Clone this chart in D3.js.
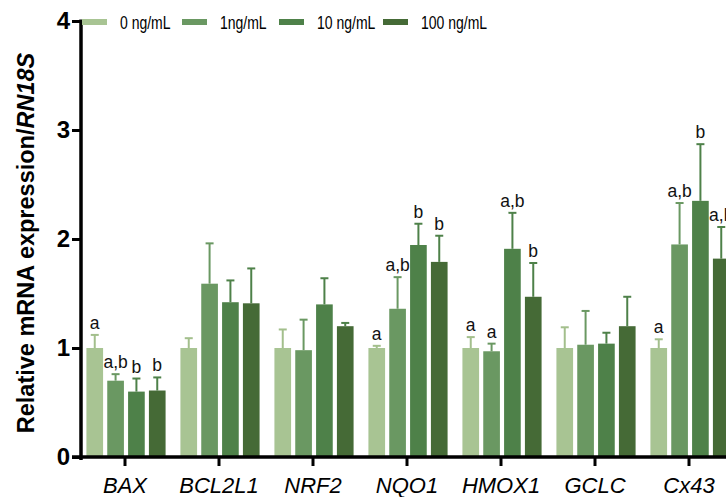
<!DOCTYPE html>
<html>
<head>
<meta charset="utf-8">
<script src="https://cdn.jsdelivr.net/npm/d3@7"></script>
<style>
  body { margin: 0; background: #fff; }
  svg { display: block; font-family: "Liberation Sans", Arial, sans-serif; }
</style>
</head>
<body>
<div id="chart"></div>
<script>
'use strict';

var genes  = ["BAX", "BCL2L1", "NRF2", "NQO1", "HMOX1", "GCLC", "Cx43"];
var doses  = ["0 ng/mL", "1ng/mL", "10 ng/mL", "100 ng/mL"];
var colors = ["#a8c493", "#6a9862", "#4e8149", "#456a36"];
var errColors = ["#a3bf8c", "#6a9862", "#4e8149", "#4e8149"];

// mean per dose, one value per gene
var dose0   = [1.00, 1.00, 1.00, 1.00, 1.00, 1.00, 1.00];
var dose1   = [0.70, 1.59, 0.98, 1.36, 0.97, 1.03, 1.95];
var dose10  = [0.60, 1.42, 1.40, 1.945, 1.91, 1.04, 2.35];
var dose100 = [0.61, 1.41, 1.20, 1.79, 1.47, 1.20, 1.82];

// top of error bar (mean + SD)
var err0   = [1.12, 1.09, 1.17, 1.02, 1.10, 1.19, 1.08];
var err1   = [0.76, 1.96, 1.26, 1.65, 1.04, 1.34, 2.33];
var err10  = [0.72, 1.62, 1.64, 2.14, 2.24, 1.14, 2.87];
var err100 = [0.73, 1.73, 1.23, 2.03, 1.78, 1.47, 2.11];

// significance letters
var sig0   = ["a", "", "", "a", "a", "", "a"];
var sig1   = ["a,b", "", "", "a,b", "a", "", "a,b"];
var sig10  = ["b", "", "", "b", "a,b", "", "b"];
var sig100 = ["b", "", "", "b", "b", "", "a,b"];

var yTicks = [0, 1, 2, 3, 4];

var means = [dose0, dose1, dose10, dose100],
    errs  = [err0, err1, err10, err100],
    sigs  = [sig0, sig1, sig10, sig100];

var W = 726, H = 497;
var svg = d3.select("#chart").append("svg").attr("width", W).attr("height", H);

var x0 = d3.scaleBand().domain(genes).range([78, 736]).paddingInner(0).paddingOuter(0);
var x1 = d3.scaleBand().domain(d3.range(doses.length)).range([8, 88]).paddingInner(0.2).paddingOuter(0.02);
var y  = d3.scaleLinear().domain([0, 4]).range([457, 21]);

// bars, error bars, letters
var data = [];
genes.forEach(function(g, gi) {
    doses.forEach(function(d, di) {
        data.push({gene: g, dose: di, v: means[di][gi], e: errs[di][gi], s: sigs[di][gi]});
    });
});

var grp = svg.append("g");
var marks = grp.selectAll("g.bar").data(data).enter().append("g")
    .attr("transform", function(d){ return "translate(" + (x0(d.gene) + x1(d.dose)) + ",0)"; });

var bw = x1.bandwidth();

marks.append("line")
    .attr("x1", bw / 2).attr("x2", bw / 2)
    .attr("y1", function(d){ return y(d.v); })
    .attr("y2", function(d){ return y(d.e); })
    .style("stroke", function(d){ return errColors[d.dose]; })
    .style("stroke-width", 2);
marks.append("line")
    .attr("x1", bw / 2 - 4).attr("x2", bw / 2 + 4)
    .attr("y1", function(d){ return y(d.e); })
    .attr("y2", function(d){ return y(d.e); })
    .style("stroke", function(d){ return errColors[d.dose]; })
    .style("stroke-width", 2);

marks.append("rect")
    .attr("x", 0).attr("width", bw)
    .attr("y", function(d){ return y(d.v); })
    .attr("height", function(d){ return y(0) - y(d.v); })
    .style("fill", function(d){ return colors[d.dose]; });

marks.filter(function(d){ return d.s; }).append("text")
    .attr("x", bw / 2)
    .attr("y", function(d){ return y(d.e) - 6; })
    .attr("text-anchor", "middle")
    .style("font-size", "17.5px")
    .style("fill", "#111")
    .text(function(d){ return d.s; });

// y axis
var yAxis = d3.axisLeft(y).tickValues(yTicks).tickFormat(d3.format("d")).tickSize(9).tickPadding(2);
var ya = svg.append("g").attr("transform", "translate(81,0)").call(yAxis);
ya.select(".domain").attr("d", "M0," + (y(4) - 1.5) + "V" + (y(0) + 3)).style("stroke-width", 3.5);
ya.selectAll(".tick line").style("stroke-width", 3);
ya.selectAll(".tick text").style("font-size", "24px").style("font-weight", "bold")
    .style("font-family", "Liberation Sans, Arial, sans-serif").style("fill", "#000");

// x axis
var xAxis = d3.axisBottom(x0).tickSize(9).tickPadding(11);
var xa = svg.append("g").attr("transform", "translate(0," + y(0) + ")").call(xAxis);
xa.select(".domain").attr("d", "M72,0H" + W).style("stroke-width", 3.5);
xa.selectAll(".tick line").style("stroke-width", 3);
xa.selectAll(".tick text").style("font-size", "22px").style("font-style", "italic")
    .style("font-family", "Liberation Sans, Arial, sans-serif").style("fill", "#000");

// y title
var yt = svg.append("text")
    .attr("transform", "translate(34,243) rotate(-90)")
    .attr("text-anchor", "middle")
    .style("font-size", "23.5px").style("font-weight", "bold");
yt.append("tspan").text("Relative mRNA expression/");
yt.append("tspan").style("font-style", "italic").text("RN18S");

// legend (text a bit condensed, as in the original)
var legX = [82, 182, 279, 383];
var leg = svg.selectAll("g.leg").data(doses).enter().append("g")
    .attr("transform", function(d, i){ return "translate(" + legX[i] + ",22)"; });
leg.append("rect").attr("x", 0).attr("y", -3).attr("width", 25).attr("height", 6)
    .style("fill", function(d, i){ return colors[i]; });
leg.append("text").attr("transform", "translate(38,6.5) scale(0.8,1)")
    .style("font-size", "17.5px").text(function(d){ return d; });
</script>
</body>
</html>
